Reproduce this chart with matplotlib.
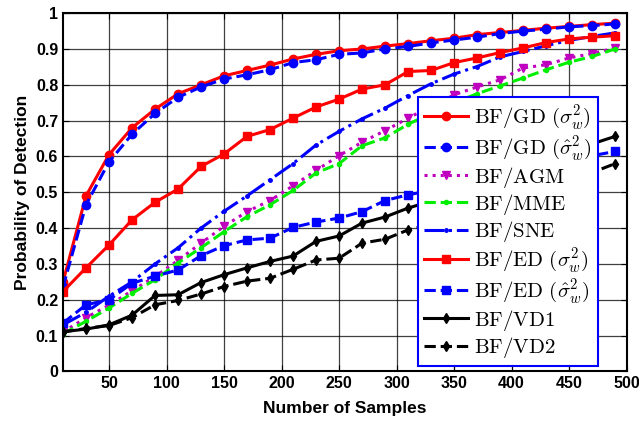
import numpy as np
from matplotlib import pyplot as plt

plt.rcParams['mathtext.fontset'] = 'cm'
plt.rcParams['font.family'] = ['Liberation Sans', 'DejaVu Sans']

# number of samples
samples = np.arange(10, 500, 20)

gd_true = [0.25, 0.49, 0.605, 0.68, 0.732, 0.775, 0.80, 0.825, 0.84, 0.855, 0.872, 0.885, 0.895,
           0.90, 0.908, 0.915, 0.923, 0.93, 0.94, 0.946, 0.952, 0.958, 0.963, 0.968, 0.972]
gd_est = [0.235, 0.465, 0.585, 0.662, 0.72, 0.765, 0.794, 0.816, 0.828, 0.842, 0.862, 0.87, 0.885,
          0.889, 0.90, 0.907, 0.917, 0.925, 0.933, 0.943, 0.95, 0.955, 0.962, 0.965, 0.97]
agm = [0.11, 0.15, 0.185, 0.225, 0.265, 0.31, 0.358, 0.405, 0.446, 0.477, 0.518, 0.561, 0.602,
       0.64, 0.672, 0.707, 0.74, 0.772, 0.794, 0.814, 0.847, 0.856, 0.875, 0.887, 0.903]
mme = [0.105, 0.14, 0.177, 0.218, 0.256, 0.303, 0.345, 0.39, 0.432, 0.465, 0.505, 0.554, 0.58,
       0.63, 0.652, 0.69, 0.72, 0.75, 0.775, 0.797, 0.819, 0.842, 0.863, 0.879, 0.90]
sne = [0.13, 0.165, 0.21, 0.25, 0.30, 0.345, 0.40, 0.447, 0.49, 0.535, 0.58, 0.632, 0.67,
       0.705, 0.735, 0.77, 0.803, 0.83, 0.851, 0.878, 0.893, 0.909, 0.924, 0.935, 0.945]
ed_true = [0.223, 0.289, 0.353, 0.423, 0.472, 0.509, 0.572, 0.607, 0.656, 0.675, 0.707, 0.738, 0.76,
           0.788, 0.80, 0.837, 0.84, 0.862, 0.875, 0.89, 0.903, 0.918, 0.928, 0.933, 0.937]
ed_est = [0.135, 0.186, 0.20, 0.246, 0.266, 0.283, 0.323, 0.351, 0.367, 0.372, 0.402, 0.417, 0.428,
          0.446, 0.477, 0.493, 0.505, 0.52, 0.535, 0.55, 0.565, 0.578, 0.59, 0.602, 0.614]
vd1 = [0.111, 0.118, 0.13, 0.157, 0.212, 0.214, 0.248, 0.27, 0.289, 0.307, 0.322, 0.363, 0.378,
       0.414, 0.431, 0.456, 0.475, 0.50, 0.52, 0.545, 0.565, 0.59, 0.61, 0.635, 0.656]
vd2 = [0.11, 0.12, 0.128, 0.15, 0.186, 0.198, 0.216, 0.237, 0.252, 0.26, 0.285, 0.311, 0.316,
       0.358, 0.369, 0.395, 0.41, 0.43, 0.45, 0.47, 0.49, 0.51, 0.535, 0.555, 0.58]

fig = plt.figure(figsize=(6.39, 4.24), dpi=100)
ax = fig.add_axes([0.0986, 0.124, 0.882, 0.845])

lw = 2.2
ax.plot(samples, gd_true, '-', color='r', lw=lw, marker='o', ms=6, label=r'$\mathrm{BF/GD}\ (\sigma_w^2)$')
ax.plot(samples, gd_est, '--', color='b', lw=lw, marker='o', ms=6, label=r'$\mathrm{BF/GD}\ (\hat{\sigma}_w^2)$')
ax.plot(samples, agm, ':', color='m', lw=lw, marker='v', ms=6, label=r'$\mathrm{BF/AGM}$')
ax.plot(samples, mme, '--', color='#00ee00', lw=lw, marker='.', ms=6, label=r'$\mathrm{BF/MME}$')
ax.plot(samples, sne, '-.', color='b', lw=lw, marker='.', ms=5, label=r'$\mathrm{BF/SNE}$')
ax.plot(samples, ed_true, '-', color='r', lw=lw, marker='s', ms=6, label=r'$\mathrm{BF/ED}\ (\sigma_w^2)$')
ax.plot(samples, ed_est, '--', color='b', lw=lw, marker='s', ms=6, label=r'$\mathrm{BF/ED}\ (\hat{\sigma}_w^2)$')
ax.plot(samples, vd1, '-', color='k', lw=lw, marker='d', ms=5, label=r'$\mathrm{BF/VD1}$')
ax.plot(samples, vd2, '--', color='k', lw=lw, marker='d', ms=5, label=r'$\mathrm{BF/VD2}$')

ax.set_xlim(10, 500)
ax.set_ylim(0, 1)
ax.set_xticks(np.arange(50, 501, 50))
ax.set_yticks(np.arange(0, 1.01, 0.1))
ax.set_yticklabels(['0', '0.1', '0.2', '0.3', '0.4', '0.5', '0.6', '0.7', '0.8', '0.9', '1'])
ax.grid(True, color='k', lw=0.9, alpha=0.75)
ax.tick_params(direction='in', top=True, right=True, length=4, labelsize=11.5)
for lab in ax.get_xticklabels() + ax.get_yticklabels():
    lab.set_fontweight('bold')
for s in ax.spines.values():
    s.set_linewidth(1.5)

ax.set_xlabel('Number of Samples', fontsize=12.5, fontweight='bold', labelpad=7)
ax.set_ylabel('Probability of Detection', fontsize=12.5, fontweight='bold', labelpad=4)

leg = ax.legend(loc='lower left', bbox_to_anchor=(0.63, 0.015), fontsize=15, fancybox=False,
                framealpha=1, edgecolor='b', handlelength=2.1, handletextpad=0.3,
                borderpad=0.3, labelspacing=0.1, borderaxespad=0)
leg.get_frame().set_linewidth(1.5)

fig.savefig('out.png', dpi=100)
